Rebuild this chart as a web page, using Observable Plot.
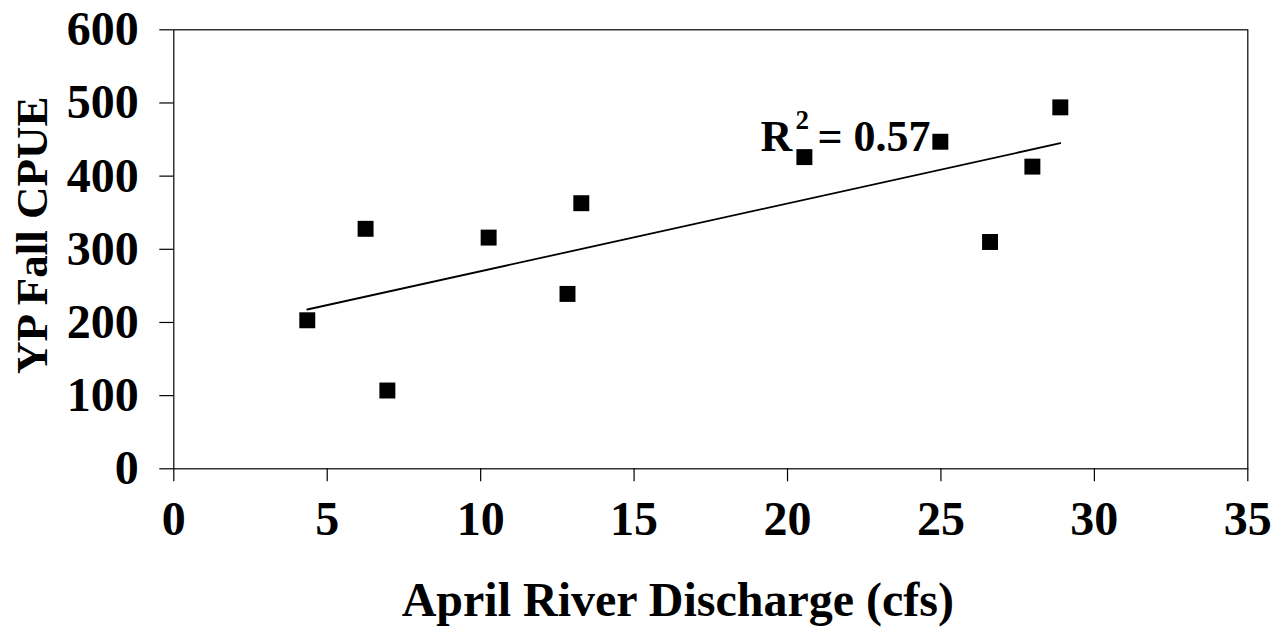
<!DOCTYPE html>
<html>
<head>
<meta charset="utf-8">
<script src="https://cdn.jsdelivr.net/npm/d3@7"></script>
<script src="https://cdn.jsdelivr.net/npm/@observablehq/plot@0.6"></script>
<style>
  html, body { margin: 0; padding: 0; background: #fff; }
  #chart svg text { font-family: "Liberation Serif", "Times New Roman", serif; font-weight: bold; fill: #000; }
</style>
</head>
<body>
<div id="chart"></div>
<script>
// Data
const discharge = [4.35, 6.25, 6.96, 10.26, 12.83, 13.28, 20.55, 24.98, 26.6, 27.98, 28.89];
const cpue = [203, 328, 107, 316, 239, 363, 426, 447, 310, 413, 494];
const xTicks = [0, 5, 10, 15, 20, 25, 30, 35];
const yTicks = [0, 100, 200, 300, 400, 500, 600];
const xTitle = "April River Discharge (cfs)";
const yTitle = "YP Fall CPUE";
const r2Value = "0.57";

const data = discharge.map((x, i) => ({x, y: cpue[i]}));

const chart = Plot.plot({
  width: 1274,
  height: 634,
  marginLeft: 173.3,
  marginRight: 26.7,
  marginTop: 29.3,
  marginBottom: 165.7,
  x: {domain: [0, 35]},
  y: {domain: [0, 600]},
  marks: [
    Plot.frame({stroke: "#000", strokeWidth: 1.2}),
    Plot.axisX({ticks: xTicks, tickSize: 13, tickPadding: 19, fontSize: 48, label: null, stroke: "#000", strokeWidth: 1.2, tickFormat: d => String(d)}),
    Plot.axisY({ticks: yTicks, tickSize: 14, tickPadding: 21, fontSize: 48, label: null, stroke: "#000", strokeWidth: 1.2, tickFormat: d => String(d)}),
    Plot.linearRegressionY(data, {x: "x", y: "y", stroke: "#000", strokeWidth: 1.8, ci: 0}),
    Plot.dot(data, {x: "x", y: "y", symbol: "square", r: 9, fill: "#000", stroke: null}),
    Plot.text(["R"], {x: 19.12, y: 434, text: d => d, textAnchor: "start", lineAnchor: "bottom", fontSize: 44}),
    Plot.text(["2"], {x: 19.12, y: 434, text: d => d, textAnchor: "start", lineAnchor: "bottom", fontSize: 27, dx: 35, dy: -22}),
    Plot.text([r2Value], {x: 19.12, y: 434, text: d => "= " + d, textAnchor: "start", lineAnchor: "bottom", fontSize: 44, dx: 57}),
    Plot.text([xTitle], {frameAnchor: "bottom", text: d => d, fontSize: 48, textAnchor: "middle", dx: -33, dy: 132, lineAnchor: "middle"}),
    Plot.text([yTitle], {frameAnchor: "left", text: d => d, fontSize: 45, rotate: -90, textAnchor: "middle", dx: -141, dy: -14, lineAnchor: "middle"})
  ]
});
document.getElementById("chart").appendChild(chart);
</script>
</body>
</html>
